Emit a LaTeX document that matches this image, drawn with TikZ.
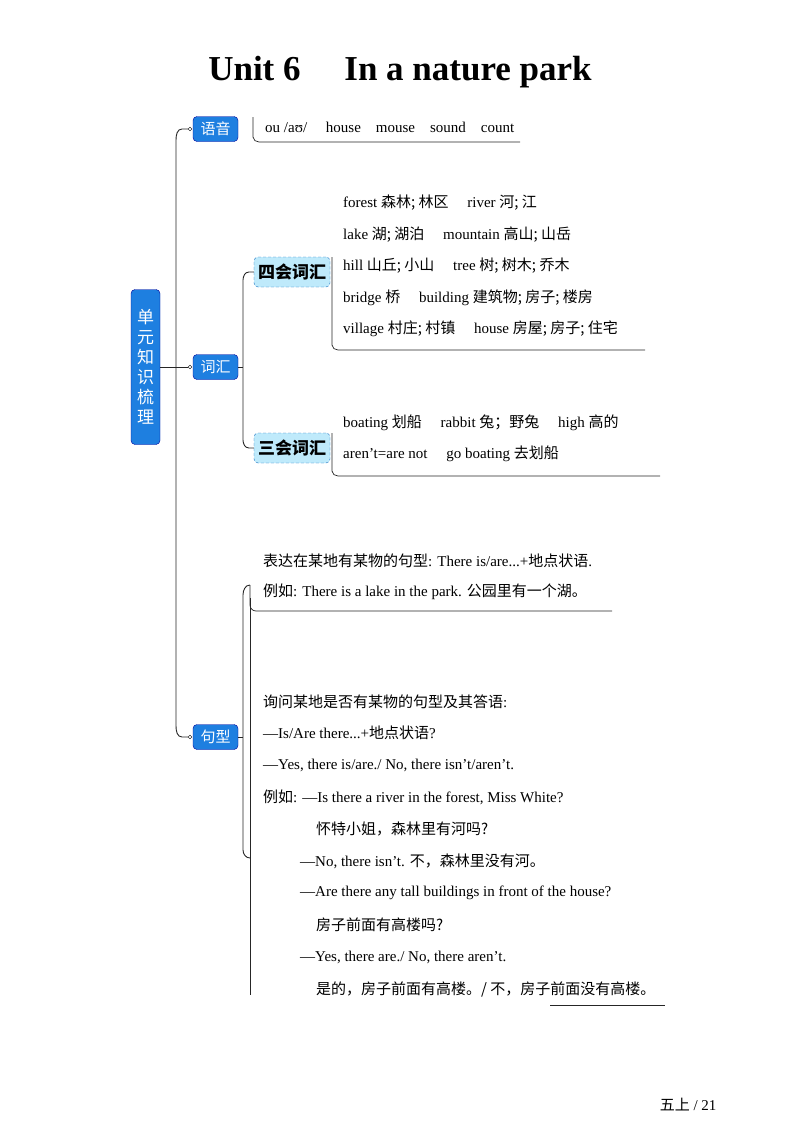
\documentclass[tikz,border=0pt]{standalone}
\usepackage{fontspec}
\setmainfont{Liberation Serif}
\newfontfamily\cjk{Noto Sans CJK SC}
\newcommand{\zh}[1]{{\cjk #1}}
\definecolor{bboxc}{HTML}{1E7FE0}
\begin{document}
\begin{tikzpicture}[x=1pt,y=-1pt,
  bluebox/.style={draw=blue!60!black,fill=bboxc,rounded corners=4pt,text=white,font=\cjk\fontsize{15}{17}\selectfont,inner sep=2pt,minimum width=45pt,minimum height=25pt},
  lightbox/.style={draw=cyan!50!blue,densely dashed,fill=cyan!25,rounded corners=4pt,font=\cjk\bfseries\fontsize{17}{19}\selectfont,minimum width=76pt,minimum height=30pt,inner sep=1pt},
  txt/.style={anchor=west,font=\fontsize{15}{17}\selectfont,inner sep=0pt},
  ln/.style={line width=0.9pt,black!85},
  dot/.style={circle,draw,fill=white,inner sep=1.3pt}]
\useasboundingbox (0,0) rectangle (800,1132);
\node[font=\bfseries\fontsize{35}{38}\selectfont] (title) at (400,72) {Unit 6\quad\ In a nature park};
% root
\node[bluebox,minimum width=29pt,minimum height=155pt,inner sep=0pt,font=\cjk\fontsize{17}{20}\selectfont,align=center] (root) at (145.5,367) {单\\元\\知\\识\\梳\\理};
% level-1 boxes
\node[bluebox] (yy) at (215.5,129) {语音};
\node[bluebox] (ch) at (215.5,367) {词汇};
\node[bluebox] (jx) at (215.5,737) {句型};
\node[dot] (d1) at (190,129) {};
\node[dot] (d2) at (190,367) {};
\node[dot] (d3) at (190,737) {};
\coordinate (rt) at (160,367);
\draw[ln] (rt) -- (176,367);
\draw[ln] (d1.west) -- (182,129) to[out=180,in=90] (176,140) -- (176,726) to[out=-90,in=180] (182,737) -- (d3.west);
\draw[ln] (176,367) -- (d2.west);
% 语音 content
\node[txt] (t0) at (265,127) {ou /aʊ/\quad\ house\quad mouse\quad sound\quad count};
\draw[ln,line width=0.7pt] (253,117) -- (253,137) to[out=-90,in=180] (259,142) -- (520,142);
% vocab subtree
\node[lightbox] (sh) at (292,272) {四会词汇};
\node[lightbox] (sa) at (292,448) {三会词汇};
\draw[ln] (ch.east) -- (243,367);
\draw[ln] (sh.west) -- (249,272) to[out=180,in=90] (243,280) -- (243,440) to[out=-90,in=180] (249,448) -- (sa.west);
\node[txt] (v1) at (343,203) {forest \zh{森林; 林区}\quad\ river \zh{河; 江}};
\node[txt] (v2) at (343,235) {lake \zh{湖; 湖泊}\quad\ mountain \zh{高山; 山岳}};
\node[txt] (v3) at (343,266) {hill \zh{山丘; 小山}\quad\ tree \zh{树; 树木; 乔木}};
\node[txt] (v4) at (343,298) {bridge \zh{桥}\quad\ building \zh{建筑物; 房子; 楼房}};
\node[txt] (v5) at (343,329) {village \zh{村庄; 村镇}\quad\ house \zh{房屋; 房子; 住宅}};
\draw[ln,line width=0.7pt] (332,257) -- (332,345) to[out=-90,in=180] (338,350) -- (645,350);
\node[txt] (w1) at (343,423) {boating \zh{划船}\quad\ rabbit \zh{兔；野兔}\quad\ high \zh{高的}};
\node[txt] (w2) at (343,454) {aren’t=are not\quad\ go boating \zh{去划船}};
\draw[ln,line width=0.7pt] (332,433) -- (332,471) to[out=-90,in=180] (338,476) -- (660,476);
% sentence subtree
\draw[ln] (jx.east) -- (243,737);
\draw[ln] (250,585) to[out=180,in=90] (243,595) -- (243,850) to[out=-90,in=180] (250,858);
\node[txt] (s1) at (263,561) {\zh{表达在某地有某物的句型}: There is/are...+\zh{地点状语}.};
\node[txt] (s2) at (263,592) {\zh{例如}: There is a lake in the park. \zh{公园里有一个湖。}};
\draw[ln,line width=0.7pt] (250,585) -- (250,605) to[out=-90,in=180] (256,611) -- (612,611);
\node[txt] (q1) at (263,702) {\zh{询问某地是否有某物的句型及其答语}:};
\node[txt] (q2) at (263,733) {—Is/Are there...+\zh{地点状语}?};
\node[txt] (q3) at (263,765) {—Yes, there is/are./ No, there isn’t/aren’t.};
\node[txt] (q4) at (263,797) {\zh{例如}: —Is there a river in the forest, Miss White?};
\node[txt] (q5) at (316,829) {\zh{怀特小姐，森林里有河吗?}};
\node[txt] (q6) at (300,861) {—No, there isn’t. \zh{不，森林里没有河。}};
\node[txt] (q7) at (300,893) {—Are there any tall buildings in front of the house?};
\node[txt] (q8) at (316,925) {\zh{房子前面有高楼吗?}};
\node[txt] (q9) at (300,957) {—Yes, there are./ No, there aren’t.};
\node[txt] (q10) at (316,989) {\zh{是的，房子前面有高楼。/ 不，房子前面没有高楼。}};
\draw[ln,line width=0.7pt] (250,598) -- (250,995);
\draw[ln,line width=0.6pt] (550,1005) -- (665,1005);
\node[anchor=east,font=\fontsize{15}{17}\selectfont] (pg) at (720,1105) {\zh{五上} / 21};
\end{tikzpicture}
\end{document}
